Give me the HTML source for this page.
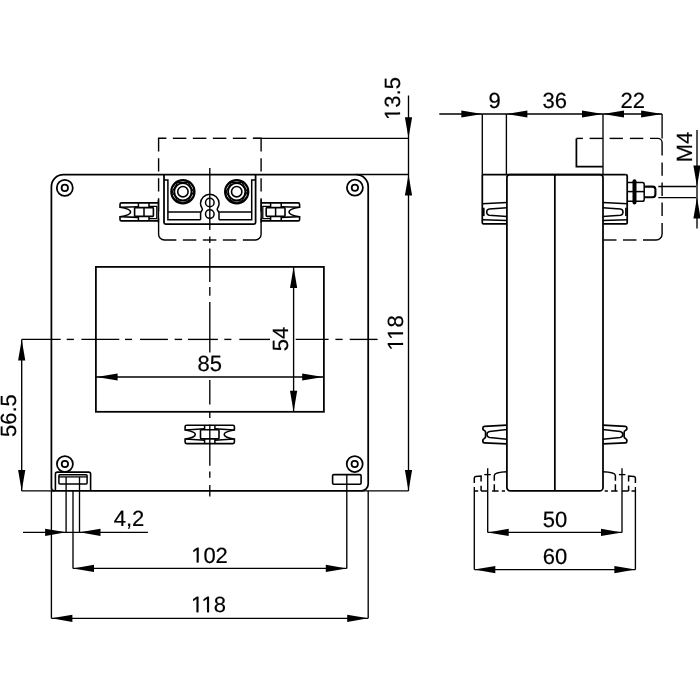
<!DOCTYPE html>
<html><head><meta charset="utf-8"><style>
html,body{margin:0;padding:0;background:#fff;width:700px;height:700px;overflow:hidden}
svg{display:block}
text{font-family:"Liberation Sans",sans-serif;fill:#000;stroke:#000;stroke-width:0.2px}
</style></head><body>
<div style="position:absolute;left:0;top:0;width:700px;height:700px;will-change:transform">
<svg width="700" height="700" viewBox="0 0 700 700">
<g stroke="#000" stroke-linecap="butt" stroke-linejoin="miter" fill="none">
<path d="M63.4,174.5 H356.2 A12.0,12.0 0 0 1 368.2,186.5 V483.9 A7.0,7.0 0 0 1 361.2,490.9 H54.4 A3.0,3.0 0 0 1 51.4,487.9 V186.5 A12.0,12.0 0 0 1 63.4,174.5 Z" stroke-width="1.75" fill="none" />
<circle cx="64.8" cy="187.9" r="8.0" stroke-width="1.75" fill="none"/>
<circle cx="64.8" cy="187.9" r="3.2" stroke-width="1.75" fill="none"/>
<circle cx="354.9" cy="187.7" r="8.0" stroke-width="1.75" fill="none"/>
<circle cx="354.9" cy="187.7" r="3.2" stroke-width="1.75" fill="none"/>
<circle cx="64.9" cy="464.0" r="8.0" stroke-width="1.75" fill="none"/>
<circle cx="64.9" cy="464.0" r="3.2" stroke-width="1.75" fill="none"/>
<circle cx="354.7" cy="464.0" r="8.0" stroke-width="1.75" fill="none"/>
<circle cx="354.7" cy="464.0" r="3.2" stroke-width="1.75" fill="none"/>
<rect x="95.9" y="266.9" width="227.99999999999997" height="144.90000000000003" rx="0" stroke-width="1.75" fill="none"/>
<path d="M164.0,174.5 V222.4 Q164.0,224.0 165.6,224.0 H254.0 Q255.6,224.0 255.6,222.4 V174.5" stroke-width="1.75" fill="none" />
<path d="M164,179.9 H167.9 V219.8 H200.6" stroke-width="1.5" fill="none" />
<line x1="167.9" y1="211.9" x2="200.6" y2="211.9" stroke-width="1.5"/>
<path d="M255.6,179.9 H251.7 V219.8 H219.0" stroke-width="1.5" fill="none" />
<line x1="251.7" y1="211.9" x2="219.0" y2="211.9" stroke-width="1.5"/>
<path d="M200.6,219.8 V213.0 C200.6,211.5 202.4,210.6 202.4,209.3 C202.4,208.0 200.5,206.5 200.5,203.5 A9.3,9.3 0 0 1 219.1,203.5 C219.1,206.5 217.2,208.0 217.2,209.3 C217.2,210.6 219.0,211.5 219.0,213.0 V219.8" stroke-width="1.5" fill="none" />
<circle cx="209.8" cy="202.5" r="4.3" stroke-width="1.5" fill="none"/>
<circle cx="209.8" cy="214.1" r="4.3" stroke-width="1.5" fill="none"/>
<circle cx="182.9" cy="191.7" r="11.6" stroke-width="2.2" fill="none"/>
<circle cx="182.9" cy="191.7" r="8.6" stroke-width="1.8" fill="none"/>
<circle cx="182.9" cy="191.7" r="5.2" stroke-width="1.6" fill="none"/>
<polygon points="193.50,191.70 188.20,200.88 177.60,200.88 172.30,191.70 177.60,182.52 188.20,182.52" stroke-width="1.3" fill="none"/>
<circle cx="236.7" cy="191.7" r="11.6" stroke-width="2.2" fill="none"/>
<circle cx="236.7" cy="191.7" r="8.6" stroke-width="1.8" fill="none"/>
<circle cx="236.7" cy="191.7" r="5.2" stroke-width="1.6" fill="none"/>
<polygon points="247.30,191.70 242.00,200.88 231.40,200.88 226.10,191.70 231.40,182.52 242.00,182.52" stroke-width="1.3" fill="none"/>
<path d="M158.4,202.9 H121.5 Q120.0,202.9 120.0,204.4 V207.3 C125.0,208.0 130.6,209.4 130.6,212.0 C130.6,214.6 125.0,216.0 120.0,216.7 V219.4 Q120.0,220.9 121.5,220.9 H158.4" stroke-width="1.6" fill="none" />
<path d="M120.5,207.3 L138.4,206.8" stroke-width="1.6" fill="none" />
<path d="M120.5,216.7 L138.4,217.4" stroke-width="1.6" fill="none" />
<line x1="138.4" y1="202.9" x2="138.4" y2="207.6" stroke-width="1.5"/>
<line x1="138.4" y1="216.4" x2="138.4" y2="220.9" stroke-width="1.5"/>
<line x1="149.0" y1="202.9" x2="149.0" y2="207.6" stroke-width="1.5"/>
<line x1="149.0" y1="216.4" x2="149.0" y2="220.9" stroke-width="1.5"/>
<rect x="134.6" y="207.6" width="18.80000000000001" height="8.800000000000011" rx="0.8" stroke-width="1.6" fill="none"/>
<line x1="144.0" y1="207.6" x2="144.0" y2="216.4" stroke-width="1.5"/>
<path d="M149.0,206.3 H156.8 V218.7 H149.0" stroke-width="1.3" fill="none" />
<line x1="158.4" y1="199.6" x2="158.4" y2="222.5" stroke-width="1.5"/>
<path d="M261.2,202.9 H298.1 Q299.6,202.9 299.6,204.4 V207.3 C294.6,208.0 289.0,209.4 289.0,212.0 C289.0,214.6 294.6,216.0 299.6,216.7 V219.4 Q299.6,220.9 298.1,220.9 H261.2" stroke-width="1.6" fill="none" />
<path d="M299.1,207.3 L281.2,206.8" stroke-width="1.6" fill="none" />
<path d="M299.1,216.7 L281.2,217.4" stroke-width="1.6" fill="none" />
<line x1="281.2" y1="202.9" x2="281.2" y2="207.6" stroke-width="1.5"/>
<line x1="281.2" y1="216.4" x2="281.2" y2="220.9" stroke-width="1.5"/>
<line x1="270.6" y1="202.9" x2="270.6" y2="207.6" stroke-width="1.5"/>
<line x1="270.6" y1="216.4" x2="270.6" y2="220.9" stroke-width="1.5"/>
<rect x="266.2" y="207.6" width="18.80000000000001" height="8.800000000000011" rx="0.8" stroke-width="1.6" fill="none"/>
<line x1="275.6" y1="207.6" x2="275.6" y2="216.4" stroke-width="1.5"/>
<path d="M270.6,206.3 H262.8 V218.7 H270.6" stroke-width="1.3" fill="none" />
<line x1="261.2" y1="199.6" x2="261.2" y2="222.5" stroke-width="1.5"/>
<path d="M209.75,425.2 H186.6 Q185.1,425.2 185.1,426.7 V430.0 C190.0,430.8 195.3,431.8 195.3,434.4 C195.3,437.0 190.0,438.2 185.1,439.0 V442.1 Q185.1,443.6 186.6,443.6 H209.75" stroke-width="1.6" fill="none" />
<path d="M185.6,430.0 L204.6,428.7" stroke-width="1.6" fill="none" />
<path d="M185.6,439.0 L204.6,440.2" stroke-width="1.6" fill="none" />
<line x1="204.6" y1="425.2" x2="204.6" y2="429.8" stroke-width="1.5"/>
<line x1="204.6" y1="438.9" x2="204.6" y2="443.6" stroke-width="1.5"/>
<path d="M209.75,425.2 H232.9 Q234.4,425.2 234.4,426.7 V430.0 C229.5,430.8 224.2,431.8 224.2,434.4 C224.2,437.0 229.5,438.2 234.4,439.0 V442.1 Q234.4,443.6 232.9,443.6 H209.75" stroke-width="1.6" fill="none" />
<path d="M233.9,430.0 L214.9,428.7" stroke-width="1.6" fill="none" />
<path d="M233.9,439.0 L214.9,440.2" stroke-width="1.6" fill="none" />
<line x1="214.9" y1="425.2" x2="214.9" y2="429.8" stroke-width="1.5"/>
<line x1="214.9" y1="438.9" x2="214.9" y2="443.6" stroke-width="1.5"/>
<rect x="200.5" y="429.8" width="18.5" height="9.099999999999966" rx="0.8" stroke-width="1.6" fill="none"/>
<path d="M55.4,490.9 V474.0 Q55.4,472.1 57.3,472.1 H88.7 Q90.6,472.1 90.6,474.0 V490.9" stroke-width="1.6" fill="none" />
<rect x="58.9" y="474.7" width="28.199999999999996" height="9.400000000000034" rx="1" stroke-width="1.5" fill="none"/>
<line x1="58.9" y1="476.9" x2="87.1" y2="476.9" stroke-width="1.3"/>
<rect x="332.6" y="474.6" width="28.5" height="9.699999999999989" rx="1.2" stroke-width="1.6" fill="none"/>
<path d="M158.6,151.4 V138.3 H166.35" stroke-width="1.4" fill="none" />
<line x1="172.85" y1="138.3" x2="186.35" y2="138.3" stroke-width="1.4"/>
<line x1="192.85" y1="138.3" x2="206.35" y2="138.3" stroke-width="1.4"/>
<line x1="212.85" y1="138.3" x2="226.35" y2="138.3" stroke-width="1.4"/>
<line x1="232.85" y1="138.3" x2="246.35" y2="138.3" stroke-width="1.4"/>
<path d="M252.85,138.3 H261.1 V151.4" stroke-width="1.4" fill="none" />
<line x1="158.6" y1="158.2" x2="158.6" y2="171.5" stroke-width="1.4"/>
<line x1="261.1" y1="158.2" x2="261.1" y2="171.5" stroke-width="1.4"/>
<line x1="158.6" y1="178.2" x2="158.6" y2="191.5" stroke-width="1.4"/>
<line x1="261.1" y1="178.2" x2="261.1" y2="191.5" stroke-width="1.4"/>
<line x1="158.6" y1="198.2" x2="158.6" y2="211.5" stroke-width="1.4"/>
<line x1="261.1" y1="198.2" x2="261.1" y2="211.5" stroke-width="1.4"/>
<path d="M158.6,218.2 V234.3 A5.7,5.7 0 0 0 164.3,240.0 H176.35" stroke-width="1.4" fill="none" />
<line x1="182.85" y1="240.0" x2="196.35" y2="240.0" stroke-width="1.4"/>
<line x1="202.85" y1="240.0" x2="216.35" y2="240.0" stroke-width="1.4"/>
<line x1="222.85" y1="240.0" x2="236.35" y2="240.0" stroke-width="1.4"/>
<path d="M242.85,240.0 H255.4 A5.7,5.7 0 0 0 261.1,234.3 V218.2" stroke-width="1.4" fill="none" />
<line x1="21.7" y1="339.4" x2="60.7" y2="339.4" stroke-width="1.35"/>
<line x1="66.7" y1="339.4" x2="73.9" y2="339.4" stroke-width="1.35"/>
<line x1="81.4" y1="339.4" x2="119.3" y2="339.4" stroke-width="1.35"/>
<line x1="125" y1="339.4" x2="132.1" y2="339.4" stroke-width="1.35"/>
<line x1="140" y1="339.4" x2="167.9" y2="339.4" stroke-width="1.35"/>
<line x1="174.6" y1="339.4" x2="182.1" y2="339.4" stroke-width="1.35"/>
<line x1="187.9" y1="339.4" x2="217.9" y2="339.4" stroke-width="1.35"/>
<line x1="224.3" y1="339.4" x2="231.4" y2="339.4" stroke-width="1.35"/>
<line x1="239.3" y1="339.4" x2="270" y2="339.4" stroke-width="1.35"/>
<line x1="295.7" y1="339.4" x2="328.6" y2="339.4" stroke-width="1.35"/>
<line x1="335.4" y1="339.4" x2="342.6" y2="339.4" stroke-width="1.35"/>
<line x1="349.7" y1="339.4" x2="377.6" y2="339.4" stroke-width="1.35"/>
<line x1="209.8" y1="167.9" x2="209.8" y2="230" stroke-width="1.35"/>
<line x1="209.8" y1="236.4" x2="209.8" y2="242.9" stroke-width="1.35"/>
<line x1="209.8" y1="248.6" x2="209.8" y2="282.1" stroke-width="1.35"/>
<line x1="209.8" y1="287.1" x2="209.8" y2="295.7" stroke-width="1.35"/>
<line x1="209.8" y1="302.1" x2="209.8" y2="352.6" stroke-width="1.35"/>
<line x1="209.8" y1="379.9" x2="209.8" y2="404.4" stroke-width="1.35"/>
<line x1="209.8" y1="411.3" x2="209.8" y2="418.1" stroke-width="1.35"/>
<line x1="209.8" y1="424.6" x2="209.8" y2="465.7" stroke-width="1.35"/>
<line x1="209.8" y1="471.4" x2="209.8" y2="477.7" stroke-width="1.35"/>
<line x1="209.8" y1="485.1" x2="209.8" y2="496.6" stroke-width="1.35"/>
<line x1="408.5" y1="95.4" x2="408.5" y2="490.9" stroke-width="1.35"/>
<polygon points="408.50,138.30 404.90,117.30 412.10,117.30" fill="#000" stroke="none"/>
<polygon points="408.50,174.50 404.90,195.50 412.10,195.50" fill="#000" stroke="none"/>
<polygon points="408.50,490.90 404.90,469.90 412.10,469.90" fill="#000" stroke="none"/>
<line x1="253.6" y1="138.3" x2="408.5" y2="138.3" stroke-width="1.35"/>
<line x1="356.2" y1="174.5" x2="408.5" y2="174.5" stroke-width="1.35"/>
<line x1="361.2" y1="490.9" x2="408.5" y2="490.9" stroke-width="1.35"/>
<line x1="21.7" y1="339.4" x2="21.7" y2="490.9" stroke-width="1.35"/>
<polygon points="21.70,339.40 18.10,360.40 25.30,360.40" fill="#000" stroke="none"/>
<polygon points="21.70,490.90 18.10,469.90 25.30,469.90" fill="#000" stroke="none"/>
<line x1="21.7" y1="490.9" x2="54.4" y2="490.9" stroke-width="1.35"/>
<line x1="293.6" y1="266.9" x2="293.6" y2="411.8" stroke-width="1.35"/>
<polygon points="293.60,266.90 290.00,287.90 297.20,287.90" fill="#000" stroke="none"/>
<polygon points="293.60,411.80 290.00,390.80 297.20,390.80" fill="#000" stroke="none"/>
<line x1="95.9" y1="377.0" x2="323.9" y2="377.0" stroke-width="1.35"/>
<polygon points="96.60,377.00 117.60,373.40 117.60,380.60" fill="#000" stroke="none"/>
<polygon points="323.20,377.00 302.20,373.40 302.20,380.60" fill="#000" stroke="none"/>
<line x1="51.4" y1="490.9" x2="51.4" y2="618.3" stroke-width="1.35"/>
<line x1="368.2" y1="490.9" x2="368.2" y2="618.3" stroke-width="1.35"/>
<line x1="66.1" y1="476.9" x2="66.1" y2="532.3" stroke-width="1.35"/>
<line x1="79.5" y1="476.9" x2="79.5" y2="532.3" stroke-width="1.35"/>
<line x1="73.0" y1="490.9" x2="73.0" y2="568.4" stroke-width="1.35"/>
<line x1="346.8" y1="474.6" x2="346.8" y2="568.4" stroke-width="1.35"/>
<line x1="23.0" y1="532.3" x2="147.9" y2="532.3" stroke-width="1.35"/>
<polygon points="66.10,532.30 45.10,528.70 45.10,535.90" fill="#000" stroke="none"/>
<polygon points="79.50,532.30 100.50,528.70 100.50,535.90" fill="#000" stroke="none"/>
<line x1="73.0" y1="568.4" x2="346.8" y2="568.4" stroke-width="1.35"/>
<polygon points="73.00,568.40 94.00,564.80 94.00,572.00" fill="#000" stroke="none"/>
<polygon points="346.80,568.40 325.80,564.80 325.80,572.00" fill="#000" stroke="none"/>
<line x1="51.4" y1="618.3" x2="368.2" y2="618.3" stroke-width="1.35"/>
<polygon points="51.40,618.30 72.40,614.70 72.40,621.90" fill="#000" stroke="none"/>
<polygon points="368.20,618.30 347.20,614.70 347.20,621.90" fill="#000" stroke="none"/>
<path d="M506.9,177.5 A3,3 0 0 1 509.9,174.5 H600.0 A3,3 0 0 1 603.0,177.5 V487.4 A3.5,3.5 0 0 1 599.5,490.9 H510.4 A3.5,3.5 0 0 1 506.9,487.4 Z" stroke-width="1.75" fill="none" />
<line x1="554.85" y1="174.5" x2="554.85" y2="490.9" stroke-width="1.75"/>
<line x1="482.3" y1="174.5" x2="625.7" y2="174.5" stroke-width="1.75"/>
<path d="M482.3,174.5 V222.7 Q482.3,223.9 483.5,223.9 H506.9" stroke-width="1.75" fill="none" />
<path d="M625.7,174.5 Q627.2,174.5 627.2,176.0 V222.7 Q627.2,223.9 626.0,223.9 H603.0" stroke-width="1.75" fill="none" />
<path d="M506.9,202.6 L482.3,203.8" stroke-width="1.5" fill="none" />
<path d="M506.9,207.7 L489.2,208.9 Q486.7,209.3 486.7,212.0 Q486.7,214.8 489.2,215.2 L506.9,216.4" stroke-width="1.5" fill="none" />
<line x1="483.8" y1="207.7" x2="483.8" y2="215.9" stroke-width="1.6"/>
<path d="M482.3,219.8 L506.9,220.5" stroke-width="1.5" fill="none" />
<path d="M602.8,202.6 L627.4,203.8" stroke-width="1.5" fill="none" />
<path d="M602.8,207.7 L620.5,208.9 Q623.0,209.3 623.0,212.0 Q623.0,214.8 620.5,215.2 L602.8,216.4" stroke-width="1.5" fill="none" />
<line x1="625.9" y1="207.7" x2="625.9" y2="215.9" stroke-width="1.6"/>
<path d="M627.4,219.8 L602.8,220.5" stroke-width="1.5" fill="none" />
<path d="M506.9,425.2 L484.3,426.4 Q482.9,426.5 482.9,427.9 V429.0 Q482.9,429.8 484.0,430.3 Q485.6,431.0 485.6,432.5 V436.5 Q485.6,438.0 484.0,438.7 Q482.9,439.2 482.9,440.0 V441.6 Q482.9,442.9 484.3,442.9 L506.9,443.8" stroke-width="1.75" fill="none" />
<path d="M506.9,429.6 L489.6,431.5 Q487.0,431.9 487.0,434.5 Q487.0,437.1 489.6,437.5 L506.9,439.3" stroke-width="1.5" fill="none" />
<path d="M602.8,425.2 L625.4,426.4 Q626.8,426.5 626.8,427.9 V429.0 Q626.8,429.8 625.7,430.3 Q624.1,431.0 624.1,432.5 V436.5 Q624.1,438.0 625.7,438.7 Q626.8,439.2 626.8,440.0 V441.6 Q626.8,442.9 625.4,442.9 L602.8,443.8" stroke-width="1.75" fill="none" />
<path d="M602.8,429.6 L620.1,431.5 Q622.7,431.9 622.7,434.5 Q622.7,437.1 620.1,437.5 L602.8,439.3" stroke-width="1.5" fill="none" />
<line x1="482.3" y1="114.0" x2="482.3" y2="174.5" stroke-width="1.35"/>
<line x1="506.4" y1="114.0" x2="506.4" y2="174.5" stroke-width="1.35"/>
<line x1="603.0" y1="114.0" x2="603.0" y2="174.5" stroke-width="1.35"/>
<line x1="662.1" y1="114.0" x2="662.1" y2="138.4" stroke-width="1.35"/>
<line x1="439.3" y1="114.0" x2="662.1" y2="114.0" stroke-width="1.35"/>
<polygon points="482.30,114.00 461.30,110.40 461.30,117.60" fill="#000" stroke="none"/>
<polygon points="506.40,114.00 527.40,110.40 527.40,117.60" fill="#000" stroke="none"/>
<polygon points="603.00,114.00 582.00,110.40 582.00,117.60" fill="#000" stroke="none"/>
<polygon points="603.00,114.00 624.00,110.40 624.00,117.60" fill="#000" stroke="none"/>
<polygon points="662.10,114.00 641.10,110.40 641.10,117.60" fill="#000" stroke="none"/>
<path d="M576.4,138.4 V166.6 H603.0" stroke-width="1.75" fill="none" />
<path d="M576.4,138.4 H582.9" stroke-width="1.4" fill="none" />
<line x1="589.6" y1="138.4" x2="602.9" y2="138.4" stroke-width="1.4"/>
<line x1="609.6" y1="138.4" x2="622.9" y2="138.4" stroke-width="1.4"/>
<line x1="629.9" y1="138.4" x2="643.3" y2="138.4" stroke-width="1.4"/>
<path d="M650.0,138.4 H657.8 A4.3,4.3 0 0 1 662.1,142.7 V155.4" stroke-width="1.4" fill="none" />
<line x1="662.1" y1="162.5" x2="662.1" y2="175.8" stroke-width="1.4"/>
<line x1="662.1" y1="182.5" x2="662.1" y2="196.0" stroke-width="1.4"/>
<line x1="662.1" y1="202.6" x2="662.1" y2="216.0" stroke-width="1.4"/>
<path d="M662.1,223.0 V234.0 A6,6 0 0 1 656.1,240.0 H643.0" stroke-width="1.4" fill="none" />
<line x1="623.0" y1="240.0" x2="636.5" y2="240.0" stroke-width="1.4"/>
<line x1="603.2" y1="240.0" x2="616.5" y2="240.0" stroke-width="1.4"/>
<path d="M628.0,182.5 H642.4 Q644.2,182.5 644.2,184.3 V199.4 Q644.2,201.2 642.4,201.2 H628.0" stroke-width="1.5" fill="none" />
<line x1="628.0" y1="191.6" x2="644.2" y2="191.6" stroke-width="1.5"/>
<rect x="632.5" y="179.3" width="4.0" height="25.2" rx="2.0" fill="#000" stroke="none"/>
<path d="M644.2,186.6 H652.5 Q655.4,186.6 655.4,189.5 V194.3 Q655.4,197.2 652.5,197.2 H644.2" stroke-width="2.1" fill="none" />
<line x1="658.3" y1="186.5" x2="696.0" y2="186.5" stroke-width="1.35"/>
<line x1="658.3" y1="197.6" x2="696.0" y2="197.6" stroke-width="1.35"/>
<line x1="697.0" y1="130.0" x2="697.0" y2="228.5" stroke-width="1.35"/>
<polygon points="697.00,186.50 693.40,165.50 700.60,165.50" fill="#000" stroke="none"/>
<polygon points="697.00,197.60 693.40,218.60 700.60,218.60" fill="#000" stroke="none"/>
<path d="M474.3,482.9 V478.0 Q474.3,476.6 475.7,476.4 L481.1,476.0 V481.4" stroke-width="1.5" fill="none" />
<line x1="481.1" y1="485.7" x2="481.1" y2="491.0" stroke-width="1.5"/>
<line x1="481.1" y1="491.0" x2="487.7" y2="491.0" stroke-width="1.5"/>
<line x1="474.3" y1="491.0" x2="478.2" y2="491.0" stroke-width="1.5"/>
<path d="M494.3,480.7 V475.5 Q494.8,472.2 506.9,471.8" stroke-width="1.5" fill="none" />
<line x1="494.3" y1="484.3" x2="494.3" y2="491.0" stroke-width="1.5"/>
<line x1="492.1" y1="491.0" x2="498.6" y2="491.0" stroke-width="1.5"/>
<line x1="501.8" y1="491.0" x2="505.0" y2="491.0" stroke-width="1.5"/>
<line x1="484.3" y1="474.6" x2="490.8" y2="474.6" stroke-width="1.35"/>
<path d="M635.4,482.9 V478.0 Q635.4,476.6 634.0,476.4 L628.6,476.0 V481.4" stroke-width="1.5" fill="none" />
<line x1="628.6" y1="485.7" x2="628.6" y2="491.0" stroke-width="1.5"/>
<line x1="628.6" y1="491.0" x2="622.0" y2="491.0" stroke-width="1.5"/>
<line x1="635.4" y1="491.0" x2="631.5" y2="491.0" stroke-width="1.5"/>
<path d="M615.4,480.7 V475.5 Q614.9,472.2 602.8,471.8" stroke-width="1.5" fill="none" />
<line x1="615.4" y1="484.3" x2="615.4" y2="491.0" stroke-width="1.5"/>
<line x1="617.6" y1="491.0" x2="611.1" y2="491.0" stroke-width="1.5"/>
<line x1="607.9" y1="491.0" x2="604.7" y2="491.0" stroke-width="1.5"/>
<line x1="625.4" y1="474.6" x2="618.9" y2="474.6" stroke-width="1.35"/>
<line x1="487.7" y1="468.2" x2="487.7" y2="532.4" stroke-width="1.35"/>
<line x1="622.0" y1="468.2" x2="622.0" y2="532.4" stroke-width="1.35"/>
<line x1="474.3" y1="487.0" x2="474.3" y2="569.6" stroke-width="1.35"/>
<line x1="635.4" y1="487.0" x2="635.4" y2="569.6" stroke-width="1.35"/>
<line x1="487.7" y1="532.4" x2="622.0" y2="532.4" stroke-width="1.35"/>
<polygon points="487.70,532.40 508.70,528.80 508.70,536.00" fill="#000" stroke="none"/>
<polygon points="622.00,532.40 601.00,528.80 601.00,536.00" fill="#000" stroke="none"/>
<line x1="474.3" y1="569.6" x2="635.4" y2="569.6" stroke-width="1.35"/>
<polygon points="474.30,569.60 495.30,566.00 495.30,573.20" fill="#000" stroke="none"/>
<polygon points="635.40,569.60 614.40,566.00 614.40,573.20" fill="#000" stroke="none"/>
</g>
<g stroke="none">
<g transform="translate(400.0,98.5) rotate(-90)"><text x="0" y="0" font-size="22" text-anchor="middle" text-rendering="geometricPrecision">13.5</text></g>
<g transform="translate(403.0,332.9) rotate(-90)"><text x="0" y="0" font-size="22" text-anchor="middle" text-rendering="geometricPrecision">118</text></g>
<g transform="translate(15.7,415.6) rotate(-90)"><text x="0" y="0" font-size="22" text-anchor="middle" text-rendering="geometricPrecision">56.5</text></g>
<g transform="translate(287.5,338.9) rotate(-90)"><text x="0" y="0" font-size="22" text-anchor="middle" text-rendering="geometricPrecision">54</text></g>
<g transform="translate(209.7,371.0)"><text x="0" y="0" font-size="22" text-anchor="middle" text-rendering="geometricPrecision">85</text></g>
<g transform="translate(129.0,525.5)"><text x="0" y="0" font-size="22" text-anchor="middle" text-rendering="geometricPrecision">4,2</text></g>
<g transform="translate(209.5,562.5)"><text x="0" y="0" font-size="22" text-anchor="middle" text-rendering="geometricPrecision">102</text></g>
<g transform="translate(208.5,612.3)"><text x="0" y="0" font-size="22" text-anchor="middle" text-rendering="geometricPrecision">118</text></g>
<g transform="translate(494.6,108.3)"><text x="0" y="0" font-size="22" text-anchor="middle" text-rendering="geometricPrecision">9</text></g>
<g transform="translate(554.8,108.3)"><text x="0" y="0" font-size="22" text-anchor="middle" text-rendering="geometricPrecision">36</text></g>
<g transform="translate(632.7,108.3)"><text x="0" y="0" font-size="22" text-anchor="middle" text-rendering="geometricPrecision">22</text></g>
<g transform="translate(692.0,147.0) rotate(-90)"><text x="0" y="0" font-size="22" text-anchor="middle" text-rendering="geometricPrecision">M4</text></g>
<g transform="translate(555.0,526.6)"><text x="0" y="0" font-size="22" text-anchor="middle" text-rendering="geometricPrecision">50</text></g>
<g transform="translate(555.0,564.3)"><text x="0" y="0" font-size="22" text-anchor="middle" text-rendering="geometricPrecision">60</text></g>
<rect x="398.000" y="108.000" width="3.000" height="11.000" fill="#fff"/>
<rect x="398.000" y="112.333" width="2.100" height="2.144" fill="#000"/>
<rect x="401.000" y="338.000" width="3.000" height="12.000" fill="#fff"/>
<rect x="401.000" y="342.860" width="2.100" height="2.144" fill="#000"/>
<rect x="401.000" y="328.000" width="3.000" height="11.000" fill="#fff"/>
<rect x="401.000" y="332.258" width="2.100" height="2.144" fill="#000"/>
<rect x="192.000" y="560.000" width="11.000" height="3.000" fill="#fff"/>
<rect x="196.579" y="560.000" width="2.144" height="2.600" fill="#000"/>
<rect x="192.000" y="610.000" width="11.000" height="3.000" fill="#fff"/>
<rect x="196.396" y="610.000" width="2.144" height="2.400" fill="#000"/>
<rect x="202.000" y="610.000" width="12.000" height="3.000" fill="#fff"/>
<rect x="206.998" y="610.000" width="2.144" height="2.400" fill="#000"/>
</g>
</svg>
</div>
</body></html>
